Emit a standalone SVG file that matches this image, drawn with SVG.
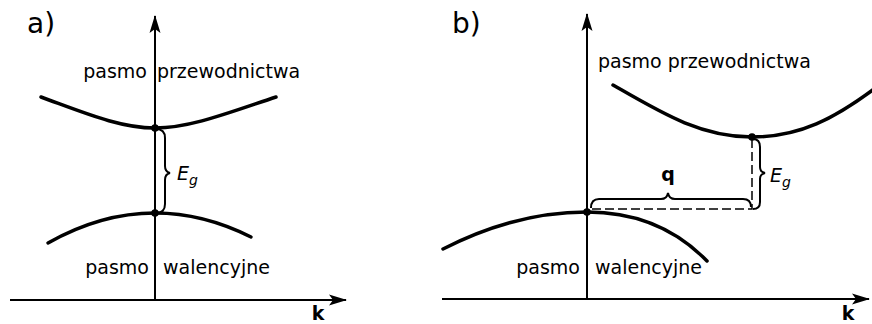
<svg xmlns="http://www.w3.org/2000/svg" width="872" height="324" viewBox="0 0 872 324">
<defs>
<marker id="arr" markerWidth="18" markerHeight="12" refX="17" refY="6" orient="auto" markerUnits="userSpaceOnUse">
<path d="M0,0.5 L18,6 L0,11.5 L4,6 z" fill="#000"/>
</marker>
<style>
.axis{stroke:#000;stroke-width:2;fill:none}
.band{stroke:#000;stroke-width:3.5;fill:none;stroke-linecap:round}
.brace{stroke:#000;stroke-width:2;fill:none}
.dash{stroke:#000;stroke-width:1.5;fill:none;stroke-dasharray:9,4}
.lbl{font-family:"DejaVu Sans",sans-serif;font-size:19px;fill:#000}
.panel{font-family:"DejaVu Sans",sans-serif;font-size:28px;fill:#000}
.k{font-family:"DejaVu Sans",sans-serif;font-size:19px;font-weight:bold;fill:#000}
.eg{font-family:"DejaVu Sans",sans-serif;font-size:19px;font-style:italic;fill:#000}
.sub{font-size:14px}
.dot{fill:#000}
</style>
</defs>
<rect width="872" height="324" fill="#fff"/>

<g id="panel-a">
<text class="panel" x="27" y="33">a)</text>
<g id="connectors-a">
<line class="axis" x1="155" y1="300" x2="155" y2="16" marker-end="url(#arr)"/>
<line class="axis" x1="10" y1="300" x2="346" y2="300" marker-end="url(#arr)"/>
<path class="brace" d="M156,129 Q165,129 165,138 L165,166 Q165,172 170,173 Q165,174 165,180 L165,204 Q165,213 156,213"/>
</g>
<g id="a-conduction">
<path class="band" d="M41,97 C85,113 120,128 155,128 C190,128 228,113 276,97"/>
<circle class="dot" cx="155" cy="128" r="3.8"/>
<text class="lbl" x="147" y="78" text-anchor="end">pasmo</text>
<text class="lbl" x="157" y="78">przewodnictwa</text>
</g>
<g id="a-valence">
<path class="band" d="M48,243 Q101,213 155,213 Q203,213 251,237"/>
<circle class="dot" cx="155" cy="213" r="3.8"/>
<text class="lbl" x="149" y="274" text-anchor="end">pasmo</text>
<text class="lbl" x="163" y="274">walencyjne</text>
</g>
<g id="a-eg"><text class="eg" x="177" y="180">E<tspan class="sub" dy="5">g</tspan></text></g>
<text class="k" x="318" y="320" text-anchor="middle">k</text>
</g>

<g id="panel-b">
<text class="panel" x="452" y="33">b)</text>
<g id="connectors-b">
<line class="axis" x1="587" y1="300" x2="587" y2="14" marker-end="url(#arr)"/>
<line class="axis" x1="442" y1="299" x2="869" y2="299" marker-end="url(#arr)"/>
<path class="dash" d="M592,209 L752,209 L752,140"/>
<path class="brace" d="M753,139 Q760,139 760,147 L760,167 Q760,172 765,173 Q760,174 760,179 L760,202 Q760,209 753,209"/>
<path class="brace" d="M591,208 Q591,199 599,199 L661,199 Q667,199 668,193 Q669,199 675,199 L743,199 Q751,199 751,207"/>
</g>
<g id="b-conduction">
<path class="band" d="M613,85 C660,112 700,137 752,137 C800,137 835,118 874,89"/>
<circle class="dot" cx="752" cy="137" r="3.8"/>
<text class="lbl" x="598" y="68">pasmo przewodnictwa</text>
</g>
<g id="b-valence">
<path class="band" d="M443,249 Q515,212 587,212 C635,212 675,228 707,261"/>
<circle class="dot" cx="587" cy="212" r="3.8"/>
<text class="lbl" x="580" y="274" text-anchor="end">pasmo</text>
<text class="lbl" x="595" y="274">walencyjne</text>
</g>
<g id="b-eg"><text class="eg" x="770" y="182">E<tspan class="sub" dy="5">g</tspan></text></g>
<text class="k" x="668" y="181" text-anchor="middle">q</text>
<text class="k" x="848" y="320" text-anchor="middle">k</text>
</g>
</svg>
